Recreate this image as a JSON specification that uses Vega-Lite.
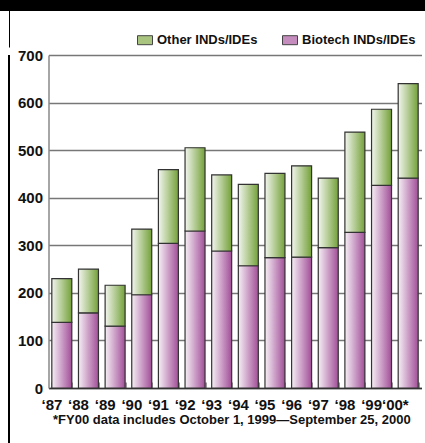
{
  "$schema": "https://vega.github.io/schema/vega-lite/v6.json",
  "padding": 0,
  "background": "white",
  "config": {"view": {"stroke": null}, "font": "Liberation Sans"},
  "datasets": {
    "bars": [
      {"year": "‘87", "type": "Biotech INDs/IDEs", "value": 138},
      {"year": "‘87", "type": "Other INDs/IDEs", "value": 92},
      {"year": "‘88", "type": "Biotech INDs/IDEs", "value": 158},
      {"year": "‘88", "type": "Other INDs/IDEs", "value": 92},
      {"year": "‘89", "type": "Biotech INDs/IDEs", "value": 130},
      {"year": "‘89", "type": "Other INDs/IDEs", "value": 86},
      {"year": "‘90", "type": "Biotech INDs/IDEs", "value": 196},
      {"year": "‘90", "type": "Other INDs/IDEs", "value": 138},
      {"year": "‘91", "type": "Biotech INDs/IDEs", "value": 304},
      {"year": "‘91", "type": "Other INDs/IDEs", "value": 155},
      {"year": "‘92", "type": "Biotech INDs/IDEs", "value": 330},
      {"year": "‘92", "type": "Other INDs/IDEs", "value": 175},
      {"year": "‘93", "type": "Biotech INDs/IDEs", "value": 288},
      {"year": "‘93", "type": "Other INDs/IDEs", "value": 160},
      {"year": "‘94", "type": "Biotech INDs/IDEs", "value": 257},
      {"year": "‘94", "type": "Other INDs/IDEs", "value": 171},
      {"year": "‘95", "type": "Biotech INDs/IDEs", "value": 274},
      {"year": "‘95", "type": "Other INDs/IDEs", "value": 177},
      {"year": "‘96", "type": "Biotech INDs/IDEs", "value": 275},
      {"year": "‘96", "type": "Other INDs/IDEs", "value": 192},
      {"year": "‘97", "type": "Biotech INDs/IDEs", "value": 295},
      {"year": "‘97", "type": "Other INDs/IDEs", "value": 146},
      {"year": "‘98", "type": "Biotech INDs/IDEs", "value": 327},
      {"year": "‘98", "type": "Other INDs/IDEs", "value": 211},
      {"year": "‘99", "type": "Biotech INDs/IDEs", "value": 426},
      {"year": "‘99", "type": "Other INDs/IDEs", "value": 160},
      {"year": "‘00*", "type": "Biotech INDs/IDEs", "value": 441},
      {"year": "‘00*", "type": "Other INDs/IDEs", "value": 199}
    ]
  },
  "spacing": 0,
  "vconcat": [
    {
      "width": 425,
      "height": 11,
      "view": {"fill": "black", "stroke": null},
      "data": {"values": []},
      "mark": "rect",
      "encoding": {}
    },
    {
      "width": 425,
      "height": 36.5,
      "view": {
        "fill": {"gradient": "linear", "x1": 0, "x2": 1, "y1": 0, "y2": 0,
          "stops": [
            {"offset": 0, "color": "#ffffff"},
            {"offset": 0.02, "color": "#ffffff"},
            {"offset": 0.02, "color": "#000000"},
            {"offset": 0.0235, "color": "#000000"},
            {"offset": 0.0235, "color": "#ffffff"},
            {"offset": 1, "color": "#ffffff"}
          ]},
        "stroke": null
      },
      "data": {"values": []},
      "mark": "rect",
      "encoding": {}
    },
    {
      "spacing": 6.5,
      "hconcat": [
        {
          "width": 10,
          "height": 388,
          "view": {
            "fill": {"gradient": "linear", "x1": 0, "x2": 1, "y1": 0, "y2": 0,
              "stops": [
                {"offset": 0, "color": "#ffffff"},
                {"offset": 0.85, "color": "#ffffff"},
                {"offset": 0.85, "color": "#000000"},
                {"offset": 1, "color": "#000000"}
              ]},
            "stroke": null
          },
          "data": {"values": []},
          "mark": "rect",
          "encoding": {}
        },
        {
          "width": 373,
          "height": 333,
          "data": {"name": "bars"},
          "transform": [
            {"stack": "value", "groupby": ["year"], "sort": [{"field": "type", "order": "ascending"}], "as": ["v0", "v1"]}
          ],
          "encoding": {
            "x": {
              "field": "year",
              "type": "nominal",
              "sort": null,
              "scale": {"paddingInner": 0.25, "paddingOuter": 0.125},
              "title": "*FY00 data includes October 1, 1999—September 25, 2000",
              "axis": {
                "labelAngle": 0,
                "labelFont": "Liberation Sans",
                "labelFontWeight": "bold",
                "labelFontSize": 15,
                "labelColor": "#111111",
                "labelAlign": "right",
                "labelDx": 10.4,
                "labelPadding": 15,
                "ticks": true,
                "tickBand": "extent",
                "tickSize": -6,
                "tickColor": "#333333",
                "tickWidth": 1,
                "domainColor": "#333333",
                "domainWidth": 1.5,
                "grid": false,
                "titleFont": "Liberation Sans",
                "titleFontWeight": "bold",
                "titleFontSize": 13,
                "titleColor": "#111111",
                "titleAnchor": "start",
                "titleAlign": "left",
                "titleX": 4,
                "titlePadding": 1
              }
            },
            "y": {
              "field": "v0",
              "type": "quantitative",
              "scale": {"domain": [0, 700], "nice": false},
              "title": null,
              "axis": {
                "values": [0, 100, 200, 300, 400, 500, 600, 700],
                "labelFont": "Liberation Sans",
                "labelFontWeight": "bold",
                "labelFontSize": 15,
                "labelColor": "#111111",
                "labelPadding": 6,
                "ticks": false,
                "domainColor": "#888888",
                "domainWidth": 1.5,
                "grid": true,
                "gridColor": "#777777",
                "gridWidth": 1.5
              }
            },
            "y2": {"field": "v1"}
          },
          "layer": [
            {
              "mark": {"type": "bar"},
              "encoding": {
                "fill": {
                  "field": "type",
                  "type": "nominal",
                  "scale": {
                    "domain": ["Other INDs/IDEs", "Biotech INDs/IDEs"],
                    "range": ["#a9c47f", "#c58dbd"]
                  },
                  "legend": {
                    "orient": "none",
                    "legendX": 137,
                    "legendY": 32.2,
                    "direction": "horizontal",
                    "title": null,
                    "symbolType": "M-1,-0.6H1V0.6H-1Z",
                    "symbolSize": 225,
                    "symbolStrokeColor": "#444444",
                    "symbolStrokeWidth": 1,
                    "symbolOpacity": 1,
                    "labelFont": "Liberation Sans",
                    "labelFontWeight": "bold",
                    "labelFontSize": 13,
                    "labelColor": "#111111",
                    "labelOffset": 4,
                    "columnPadding": 22
                  }
                }
              }
            },
            {
              "transform": [{"filter": "datum.type === 'Biotech INDs/IDEs'"}],
              "mark": {"type": "bar", "stroke": "#333333", "strokeWidth": 1.2,
                "color": {"gradient": "linear", "x1": 0, "x2": 1, "y1": 0, "y2": 0,
                  "stops": [{"offset": 0, "color": "#f6eff5"}, {"offset": 1, "color": "#a24f98"}]}}
            },
            {
              "transform": [{"filter": "datum.type === 'Other INDs/IDEs'"}],
              "mark": {"type": "bar", "stroke": "#333333", "strokeWidth": 1.2,
                "color": {"gradient": "linear", "x1": 0, "x2": 1, "y1": 0, "y2": 0,
                  "stops": [{"offset": 0, "color": "#f2f5ee"}, {"offset": 1, "color": "#74a13a"}]}}
            }
          ]
        }
      ]
    }
  ]
}
